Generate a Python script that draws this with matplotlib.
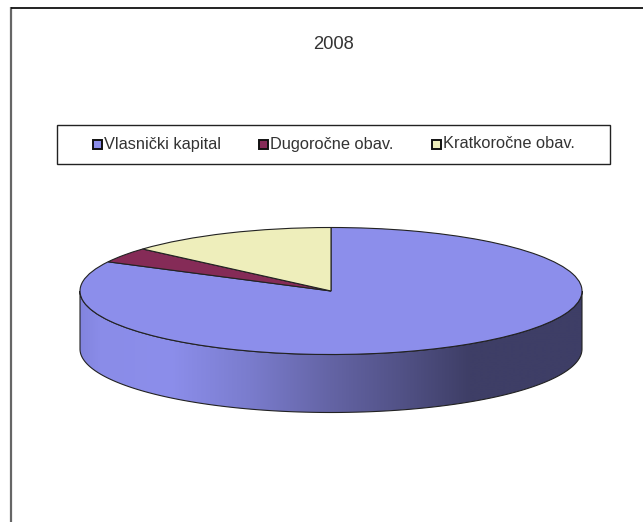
import numpy as np
import matplotlib
matplotlib.use('Agg')
import matplotlib.pyplot as plt
from matplotlib.patches import Rectangle, Polygon

W, H = 643, 522

titulo = '2008'
categorias = ['Vlasnički kapital', 'Dugoročne obav.', 'Kratkoročne obav.']
valores = [82.6, 3.9, 13.5]
colores = ['#8c8eeb', '#852b57', '#eeeebb']

plt.rcParams['font.family'] = ['Liberation Sans', 'DejaVu Sans']

fig = plt.figure(figsize=(W / 100, H / 100), dpi=100, facecolor='white')

# ejes en pixeles para marco, leyenda y pared lateral
bg = fig.add_axes([0, 0, 1, 1])
bg.set_xlim(0, W)
bg.set_ylim(H, 0)
bg.axis('off')

# marco del grafico
bg.plot([11, 11], [H, 7], color='#666666', lw=1.6, solid_capstyle='butt')
bg.plot([11, W], [7.5, 7.5], color='#111111', lw=1.3, solid_capstyle='butt')

bg.text(333, 49, titulo, ha='center', va='baseline', fontsize=13.2, color='#333333')

# leyenda
bg.add_patch(Rectangle((57, 125), 553, 39, fc='white', ec='#222222', lw=1))
leg_x = [93, 259, 432]
for x, cat, col in zip(leg_x, categorias, colores):
    bg.add_patch(Rectangle((x, 139.5), 9, 9, fc=col, ec='#111111', lw=1.4))
    bg.text(x + 11, 148.5, cat, ha='left', va='baseline', fontsize=11.8, color='#333333')

# pared lateral del disco
cx, cy, rx, ry, depth = 331, 291, 251, 63.5, 58
t = np.linspace(0, np.pi, 200)
xs = cx + rx * np.cos(t)
ys = cy + ry * np.sin(t)
verts = np.r_[np.c_[xs, ys + depth], np.c_[xs[::-1], ys[::-1]]]
pared = Polygon(verts, closed=True, fc='none', ec='#222222', lw=0.8, zorder=3)
bg.add_patch(pared)

stops_x = [80, 100, 170, 250, 330, 400, 470, 582]
stops_c = [(130, 132, 222), (138, 140, 232), (140, 142, 235), (122, 124, 205),
           (100, 100, 165), (82, 82, 135), (62, 62, 102), (62, 62, 102)]
grad_x = np.arange(80, 583)
grad = np.stack([np.interp(grad_x, stops_x, [c[i] for c in stops_c]) for i in range(3)], axis=-1) / 255
im = bg.imshow(grad[np.newaxis, :, :], extent=(80, 582, cy + ry + depth, cy - 1),
               aspect='auto', zorder=2, interpolation='bilinear')
im.set_clip_path(Polygon(verts, closed=True, transform=bg.transData))
bg.set_xlim(0, W)
bg.set_ylim(H, 0)

# tapa superior: pie aplastado en unos ejes del tamano de la elipse
pie_ax = fig.add_axes([(cx - rx) / W, 1 - (cy + ry) / H, 2 * rx / W, 2 * ry / H])
pie_ax.patch.set_alpha(0)
pie_ax.pie(valores, colors=colores, startangle=90, counterclock=False, radius=1,
           wedgeprops={'edgecolor': '#222222', 'linewidth': 0.8}, frame=False)
pie_ax.set_aspect('auto')
pie_ax.set_xlim(-1, 1)
pie_ax.set_ylim(-1, 1)
pie_ax.axis('off')
for w in pie_ax.patches:
    w.set_clip_on(False)

fig.savefig('out.png', dpi=100)
